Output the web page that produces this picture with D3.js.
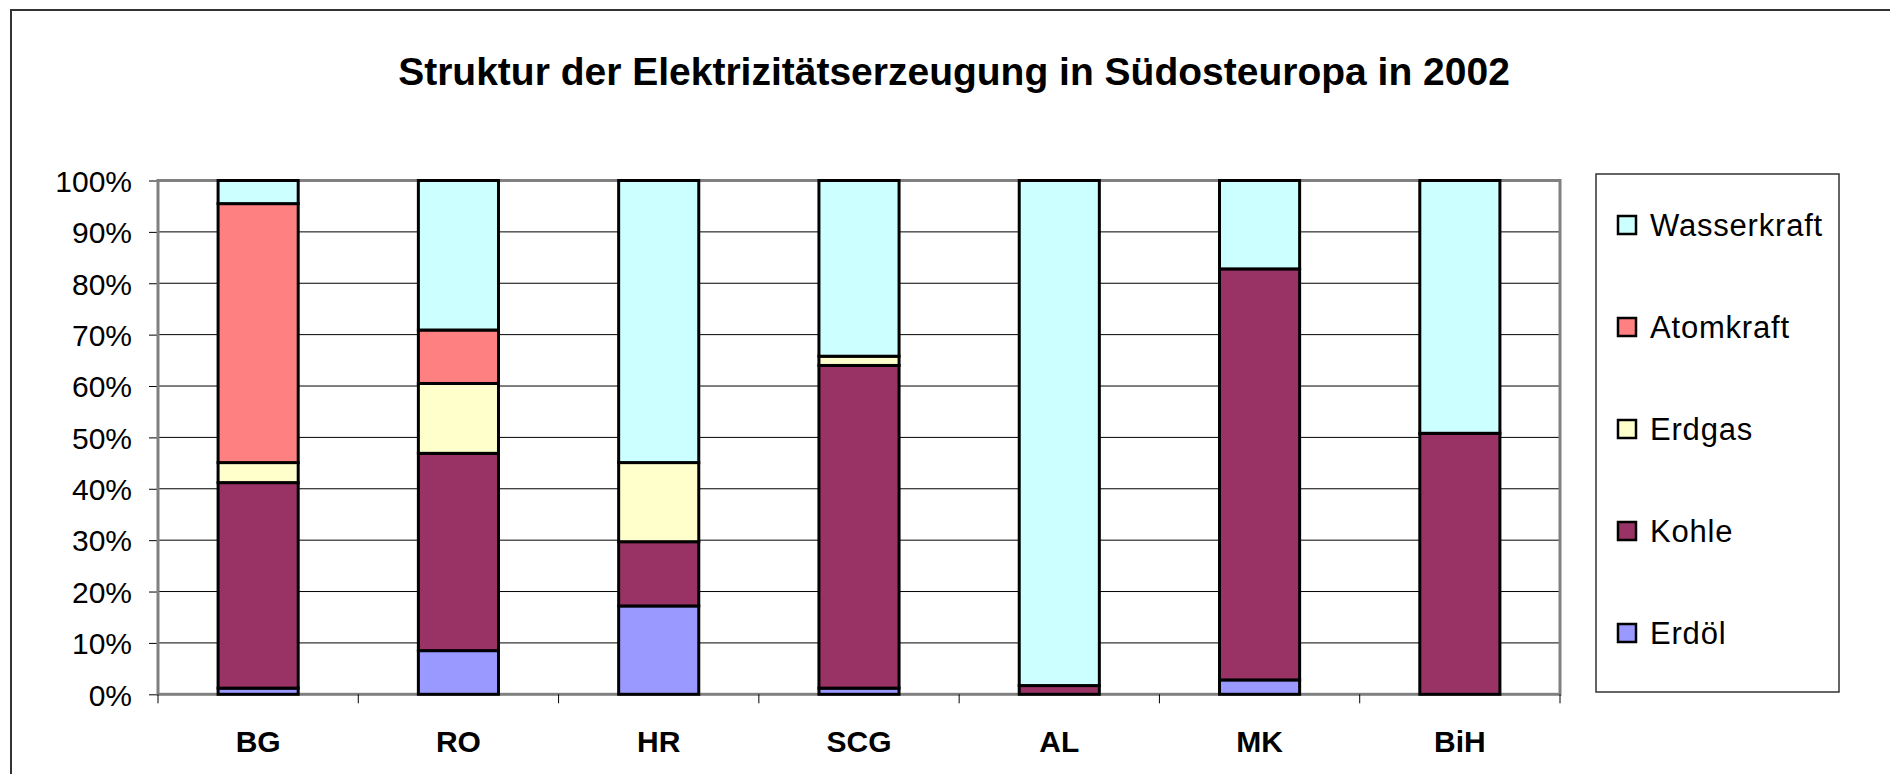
<!DOCTYPE html>
<html>
<head>
<meta charset="utf-8">
<script src="https://cdn.jsdelivr.net/npm/d3@7"></script>
<style>
  body { margin: 0; background: #fff; }
  svg { display: block; font-family: "Liberation Sans", Arial, sans-serif; }
</style>
</head>
<body>
<svg id="chart"></svg>
<script>
// Chart data (share of generation in %)
const countries = ["BG", "RO", "HR", "SCG", "AL", "MK", "BiH"];
const sources = ["Erdöl", "Kohle", "Erdgas", "Atomkraft", "Wasserkraft"];
const erdoel      = [1.2, 8.5, 17.2, 1.2, 0, 2.8, 0];
const kohle       = [40.0, 38.4, 12.5, 62.8, 1.7, 80.0, 50.8];
const erdgas      = [3.9, 13.6, 15.4, 1.8, 0, 0, 0];
const atomkraft   = [50.4, 10.4, 0, 0, 0, 0, 0];
const wasserkraft = [4.5, 29.1, 54.9, 34.2, 98.3, 17.2, 49.2];
const yTicks = [0, 10, 20, 30, 40, 50, 60, 70, 80, 90, 100];

const colors = {
  "Erdöl": "#9999FF",
  "Kohle": "#993366",
  "Erdgas": "#FFFFCC",
  "Atomkraft": "#FF8080",
  "Wasserkraft": "#CCFFFF"
};

const width = 1890, height = 774;
const svg = d3.select("#chart").attr("width", width).attr("height", height);

// outer chart frame (runs off the right and bottom edge)
svg.append("rect")
   .attr("x", 11).attr("y", 10)
   .attr("width", 1900).attr("height", 800)
   .attr("fill", "#fff").attr("stroke", "#333").attr("stroke-width", 2);

svg.append("text")
   .attr("x", 954).attr("y", 85)
   .attr("text-anchor", "middle")
   .attr("font-weight", "bold").attr("font-size", 39)
   .text("Struktur der Elektrizitätserzeugung in Südosteuropa in 2002");

// table for d3.stack
const table = countries.map((c, i) => ({
  country: c,
  "Erdöl": erdoel[i],
  "Kohle": kohle[i],
  "Erdgas": erdgas[i],
  "Atomkraft": atomkraft[i],
  "Wasserkraft": wasserkraft[i]
}));
const stacked = d3.stack().keys(sources)(table);

const plot = { left: 158, right: 1560, top: 180.5, bottom: 694.3 };

const x = d3.scaleBand()
            .domain(countries)
            .range([plot.left, plot.right])
            .paddingInner(0.6)
            .paddingOuter(0.3);

const y = d3.scaleLinear()
            .domain([0, 100])
            .range([plot.bottom, plot.top]);

// gridlines
svg.append("g")
   .selectAll("line")
   .data(yTicks.filter(t => t > 0 && t < 100))
   .enter().append("line")
   .attr("x1", plot.left).attr("x2", plot.right)
   .attr("y1", d => y(d)).attr("y2", d => y(d))
   .attr("stroke", "#000").attr("stroke-width", 1);

// y axis
const yAxis = svg.append("g")
   .attr("transform", `translate(${plot.left},0)`)
   .call(d3.axisLeft(y).tickValues(yTicks).tickFormat(d => d + "%").tickSize(9).tickPadding(17));
yAxis.select(".domain").remove();
yAxis.selectAll(".tick line").attr("stroke", "#000");
yAxis.selectAll("text")
     .attr("font-size", 30).attr("font-family", "Liberation Sans, Arial, sans-serif")
     .attr("fill", "#000").attr("dy", "0.36em");

// plot area border
svg.append("rect")
   .attr("x", plot.left).attr("y", plot.top)
   .attr("width", plot.right - plot.left).attr("height", plot.bottom - plot.top)
   .attr("fill", "none").attr("stroke", "#808080").attr("stroke-width", 3);

// category tick marks between groups
const step = x.step();
svg.append("g")
   .selectAll("line")
   .data(d3.range(countries.length + 1))
   .enter().append("line")
   .attr("x1", i => plot.left + i * step).attr("x2", i => plot.left + i * step)
   .attr("y1", plot.bottom).attr("y2", plot.bottom + 9)
   .attr("stroke", "#000").attr("stroke-width", 1);

// category labels
svg.append("g")
   .selectAll("text")
   .data(countries)
   .enter().append("text")
   .attr("x", d => x(d) + x.bandwidth() / 2)
   .attr("y", 752)
   .attr("text-anchor", "middle")
   .attr("font-weight", "bold").attr("font-size", 30)
   .text(d => d);

// stacked bars
svg.append("g")
   .selectAll("g")
   .data(stacked)
   .enter().append("g")
   .attr("fill", d => colors[d.key])
   .selectAll("rect")
   .data(d => d.filter(s => s[1] - s[0] > 0))
   .enter().append("rect")
   .attr("x", d => x(d.data.country))
   .attr("width", x.bandwidth())
   .attr("y", d => y(d[1]))
   .attr("height", d => y(d[0]) - y(d[1]))
   .attr("stroke", "#000").attr("stroke-width", 3);

// legend
const legend = svg.append("g");
legend.append("rect")
      .attr("x", 1596).attr("y", 174)
      .attr("width", 243).attr("height", 518)
      .attr("fill", "#fff").attr("stroke", "#333").attr("stroke-width", 1.5);

const legendKeys = sources.slice().reverse();
const items = legend.selectAll("g.item")
      .data(legendKeys)
      .enter().append("g")
      .attr("class", "item")
      .attr("transform", (d, i) => `translate(1618,${225 + i * 102})`);
items.append("rect")
     .attr("x", 0).attr("y", -9)
     .attr("width", 18).attr("height", 18)
     .attr("fill", d => colors[d])
     .attr("stroke", "#000").attr("stroke-width", 2.5);
items.append("text")
     .attr("x", 32).attr("y", 0).attr("dy", "0.36em")
     .attr("font-size", 31).attr("letter-spacing", 0.8)
     .text(d => d);
</script>
</body>
</html>
